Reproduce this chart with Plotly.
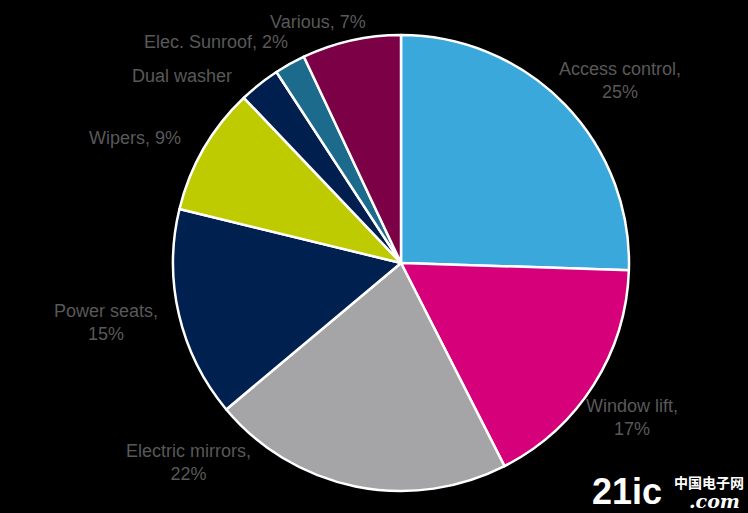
import plotly.graph_objects as go

# Share of electric motors by application
categories = ['Access control', 'Window lift', 'Electric mirrors', 'Power seats',
              'Wipers', 'Dual washer', 'Elec. Sunroof', 'Various']
shares = [25.5, 17.0, 21.4, 14.9, 9.1, 2.9, 2.2, 7.0]
label_texts = ['Access control,<br>25%', 'Window lift,<br>17%', 'Electric mirrors,<br>22%',
               'Power seats,<br>15%', 'Wipers, 9%', 'Dual washer', 'Elec. Sunroof, 2%', 'Various, 7%']
slice_colors = ['#3BA8DB', '#D5007A', '#A5A5A7', '#00204F',
                '#BDCB00', '#001E4E', '#1C6A8C', '#7B0046']

# label anchor points in pixels (x, y from top)
label_pos = [(620, 80), (632, 417), (188, 462), (106, 322),
             (135, 138), (182, 76), (216, 42), (318, 22)]

W, H = 748, 513

fig = go.Figure(go.Pie(
    labels=categories,
    values=shares,
    sort=False,
    direction='clockwise',
    rotation=0,
    textinfo='none',
    marker=dict(colors=slice_colors, line=dict(color='white', width=2.5)),
    domain=dict(x=[173 / W, 629 / W], y=[1 - 491 / H, 1 - 35 / H]),
    showlegend=False,
    hoverinfo='label+percent',
))

for txt, (px_, py_) in zip(label_texts, label_pos):
    fig.add_annotation(
        x=px_ / W, y=1 - py_ / H, xref='paper', yref='paper',
        text=txt, showarrow=False, align='center',
        xanchor='center', yanchor='middle',
        font=dict(family='Liberation Sans, Arial', size=18, color='#595959'),
    )

# watermark
fig.add_annotation(x=664 / W, y=1 - 491 / H, xref='paper', yref='paper', text='<b>21ic</b>',
                   showarrow=False, xanchor='right', yanchor='middle',
                   font=dict(family='Liberation Sans Narrow, Liberation Sans', size=36, color='white'))
fig.add_annotation(x=746 / W, y=1 - 482 / H, xref='paper', yref='paper', text='<b>中国电子网</b>',
                   showarrow=False, xanchor='right', yanchor='middle',
                   font=dict(family='Noto Sans CJK SC', size=14, color='white'))
fig.add_annotation(x=742 / W, y=1 - 501 / H, xref='paper', yref='paper', text='<b><i>.com</i></b>',
                   showarrow=False, xanchor='right', yanchor='middle',
                   font=dict(family='DejaVu Serif', size=19, color='white'))

fig.update_layout(
    width=W, height=H,
    margin=dict(l=0, r=0, t=0, b=0),
    paper_bgcolor='black',
    plot_bgcolor='black',
)

fig.write_html('out.html', config={'displayModeBar': False},
               post_script="document.body.style.margin='0';")
